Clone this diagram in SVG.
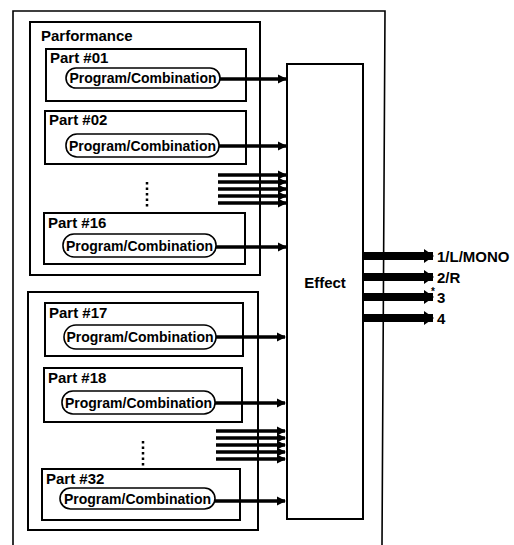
<svg xmlns="http://www.w3.org/2000/svg" width="514" height="545" viewBox="0 0 514 545">
<defs>
<style>
.frame{fill:none;stroke:#000;stroke-width:1.6}
.box{fill:#fff;stroke:#000;stroke-width:2}
.pill{fill:#fff;stroke:#000;stroke-width:1.6}
.t{font-family:"Liberation Sans",Arial,sans-serif;font-weight:bold;fill:#000}
.lbl{font-size:15px}
.pt{font-size:14px}
.arr{stroke:#000;stroke-width:3.5;fill:none;marker-end:url(#ah)}
.out{stroke:#000;stroke-width:8;fill:none;marker-end:url(#ob)}
.dots{stroke:#000;stroke-width:2.5;stroke-dasharray:2.5 3;fill:none}
</style>
<marker id="ah" markerUnits="userSpaceOnUse" markerWidth="10" markerHeight="10" refX="8" refY="4.5" orient="auto" viewBox="0 0 10 9">
<path d="M0,0 L9,4.5 L0,9 Z" fill="#000"/>
</marker>
<marker id="ob" markerUnits="userSpaceOnUse" markerWidth="10" markerHeight="14" refX="9" refY="7" orient="auto" viewBox="0 0 10 14">
<path d="M0,0 L10,7 L0,14 Z" fill="#000"/>
</marker>
</defs>
<rect width="514" height="545" fill="#fff"/>
<polyline class="frame" points="13,545 13,11 385,11 382,545"/>

<g id="performance">
<rect class="box" x="30" y="22" width="230" height="253"/>
<text class="t lbl" x="41" y="41">Parformance</text>
</g>
<g id="group2">
<rect class="box" x="28" y="292" width="230" height="238"/>
</g>

<g id="part01">
<rect class="box" x="46" y="49" width="200" height="52"/>
<text class="t lbl" x="50" y="63">Part #01</text>
<rect class="pill" x="66" y="68" width="154" height="20" rx="10"/>
<text class="t pt" x="143" y="83" text-anchor="middle">Program/Combination</text>
</g>
<g id="part02">
<rect class="box" x="45" y="111" width="201" height="53"/>
<text class="t lbl" x="49" y="125">Part #02</text>
<rect class="pill" x="66" y="134" width="153" height="23" rx="11"/>
<text class="t pt" x="142.500" y="150.500" text-anchor="middle">Program/Combination</text>
</g>
<g id="dots1"><line class="dots" x1="147" y1="182" x2="147" y2="207"/></g>
<g id="part16">
<rect class="box" x="44" y="213" width="201" height="51"/>
<text class="t lbl" x="48" y="228">Part #16</text>
<rect class="pill" x="63" y="234" width="153" height="23" rx="11"/>
<text class="t pt" x="139.500" y="250.500" text-anchor="middle">Program/Combination</text>
</g>
<g id="part17">
<rect class="box" x="45" y="303" width="198" height="53"/>
<text class="t lbl" x="49" y="318">Part #17</text>
<rect class="pill" x="64" y="325" width="152" height="24" rx="12"/>
<text class="t pt" x="140" y="342" text-anchor="middle">Program/Combination</text>
</g>
<g id="part18">
<rect class="box" x="44" y="368" width="198" height="54"/>
<text class="t lbl" x="48" y="383">Part #18</text>
<rect class="pill" x="62" y="391" width="153" height="23" rx="11"/>
<text class="t pt" x="138.500" y="407.500" text-anchor="middle">Program/Combination</text>
</g>
<g id="dots2"><line class="dots" x1="143" y1="441" x2="143" y2="466"/></g>
<g id="part32">
<rect class="box" x="42" y="469" width="198" height="51"/>
<text class="t lbl" x="46" y="484">Part #32</text>
<rect class="pill" x="60" y="488" width="155" height="21" rx="10.500"/>
<text class="t pt" x="137.500" y="503.500" text-anchor="middle">Program/Combination</text>
</g>

<g id="effect">
<rect class="box" x="287" y="64" width="76" height="455"/>
<text class="t lbl" x="325" y="288" text-anchor="middle">Effect</text>
</g>

<g id="connectors">
<line class="arr" x1="220" y1="79" x2="286" y2="79"/>
<line class="arr" x1="219" y1="146" x2="286" y2="146"/>
<line class="arr" x1="218" y1="175" x2="286" y2="175"/>
<line class="arr" x1="218" y1="182" x2="286" y2="182"/>
<line class="arr" x1="218" y1="189" x2="286" y2="189"/>
<line class="arr" x1="218" y1="196" x2="286" y2="196"/>
<line class="arr" x1="218" y1="203" x2="286" y2="203"/>
<line class="arr" x1="216" y1="247" x2="286" y2="247"/>
<line class="arr" x1="216" y1="337" x2="285" y2="337"/>
<line class="arr" x1="215" y1="403" x2="285" y2="403"/>
<line class="arr" x1="216" y1="431" x2="285" y2="431"/>
<line class="arr" x1="216" y1="438" x2="285" y2="438"/>
<line class="arr" x1="216" y1="445" x2="285" y2="445"/>
<line class="arr" x1="216" y1="452" x2="285" y2="452"/>
<line class="arr" x1="216" y1="459" x2="285" y2="459"/>
<line class="arr" x1="215" y1="501" x2="285" y2="501"/>
<line class="out" x1="363" y1="256" x2="433" y2="256"/>
<line class="out" x1="363" y1="277" x2="433" y2="277"/>
<line class="out" x1="363" y1="297" x2="433" y2="297"/>
<line class="out" x1="363" y1="318" x2="433" y2="318"/>
</g>

<g id="outputs">
<text class="t lbl" x="437" y="262">1/L/MONO</text>
<text class="t lbl" x="437" y="283">2/R</text>
<text class="t" x="431" y="295" font-size="10">*</text>
<text class="t lbl" x="437" y="303">3</text>
<text class="t lbl" x="437" y="324">4</text>
</g>
</svg>
